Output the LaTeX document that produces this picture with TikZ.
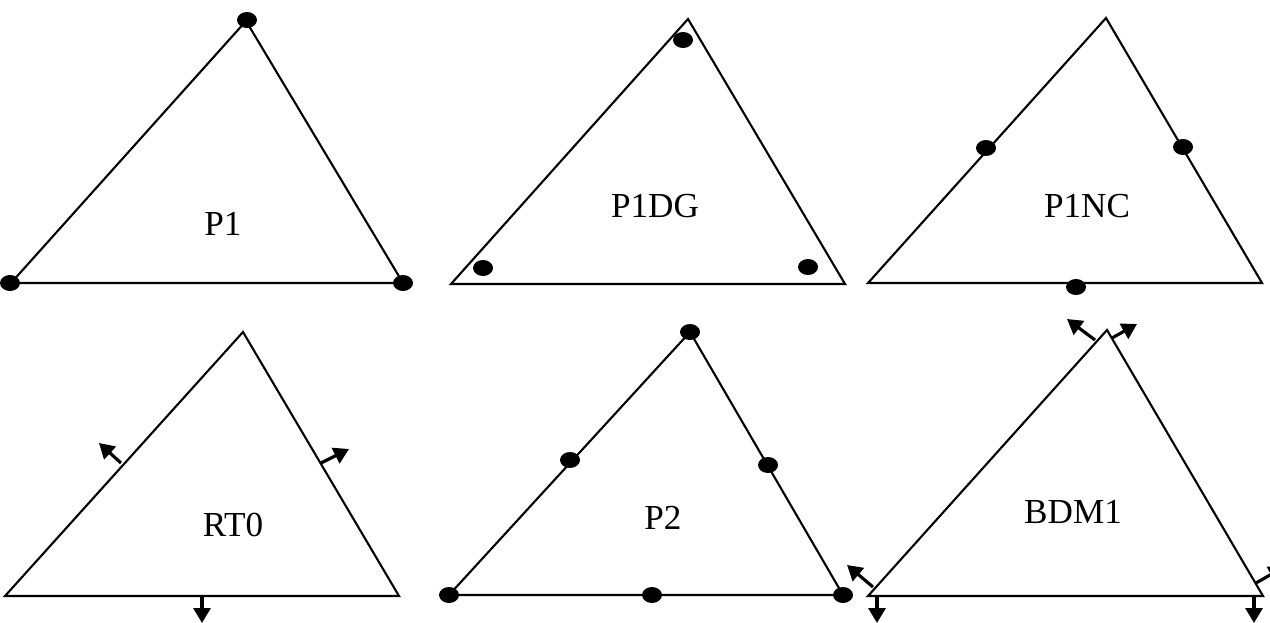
\documentclass[tikz,border=0pt]{standalone}
\usepackage{fontspec}
\setmainfont{Liberation Serif}
\usetikzlibrary{arrows.meta}

\begin{document}
\begin{tikzpicture}[x=0.02cm, y=-0.02cm, >={Triangle[length=0.3cm, width=0.34cm]},
        edge/.style={line width=1.2pt},
        flux/.style={line width=1.8pt, ->},
        lbl/.style={font=\fontsize{20}{24}\selectfont}]
        \useasboundingbox (0,0) rectangle (1270,622);

        % P1
        \draw[edge] (11,283)--(403,283)--(246,21)--cycle;
        \fill (10,283) ellipse (0.2cm and 0.16cm);
        \fill (403,283) ellipse (0.2cm and 0.16cm);
        \fill (247,20) ellipse (0.2cm and 0.16cm);
        \node[lbl] (p1) at (223,224) {P1};

        % P1DG
        \draw[edge] (451,284)--(845,284)--(688,19)--cycle;
        \fill (683,40) ellipse (0.2cm and 0.16cm);
        \fill (483,268) ellipse (0.2cm and 0.16cm);
        \fill (808,267) ellipse (0.2cm and 0.16cm);
        \node[lbl] (p1dg) at (655,206) {P1DG};

        % P1NC
        \draw[edge] (868,283)--(1262,283)--(1106,18)--cycle;
        \fill (986,148) ellipse (0.2cm and 0.16cm);
        \fill (1183,147) ellipse (0.2cm and 0.16cm);
        \fill (1076,287) ellipse (0.2cm and 0.16cm);
        \node[lbl] (p1nc) at (1087,206) {P1NC};

        % RT0
        \draw[edge] (5,596)--(399,596)--(243,332)--cycle;
        \draw[flux] (121,463)--(99,443);
        \draw[flux] (321,463)--(349,449);
        \draw[flux] (202,597)--(202,623);
        \node[lbl] (rt0) at (233,525) {RT0};

        % P2
        \draw[edge] (449,595)--(843,595)--(690,332)--cycle;
        \fill (449,595) ellipse (0.2cm and 0.16cm);
        \fill (843,595) ellipse (0.2cm and 0.16cm);
        \fill (690,332) ellipse (0.2cm and 0.16cm);
        \fill (570,460) ellipse (0.2cm and 0.16cm);
        \fill (768,465) ellipse (0.2cm and 0.16cm);
        \fill (652,595) ellipse (0.2cm and 0.16cm);
        \node[lbl] (p2) at (663,518) {P2};

        % BDM1
        \draw[edge] (868,596)--(1263,596)--(1107,330)--cycle;
        \draw[flux] (1095,340)--(1067,319);
        \draw[flux] (1112,338)--(1137,324);
        \draw[flux] (873,587)--(847,565);
        \draw[flux] (1256,583)--(1284,567);
        \draw[flux] (877,597)--(877,623);
        \draw[flux] (1254,597)--(1254,623);
        \node[lbl] (bdm1) at (1073,512) {BDM1};
\end{tikzpicture}
\end{document}
